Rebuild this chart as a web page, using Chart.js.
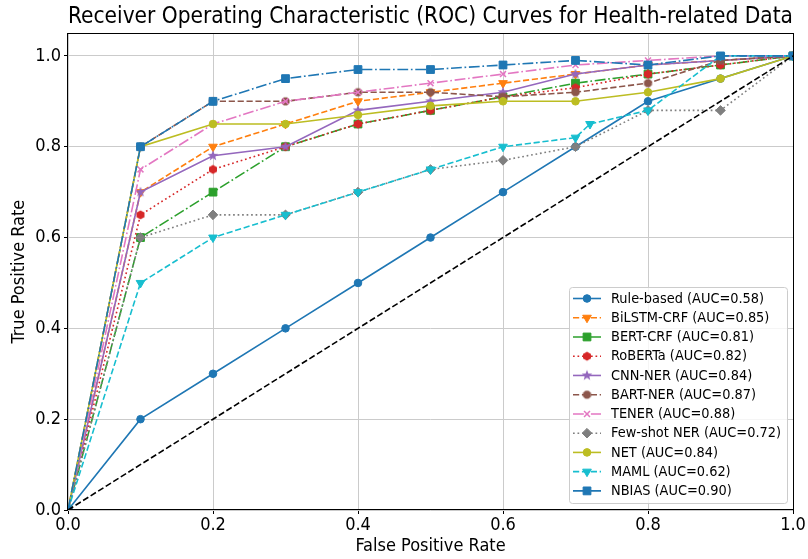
<!DOCTYPE html>
<html>
<head>
<meta charset="utf-8">
<script src="https://cdn.jsdelivr.net/npm/chart.js@4.4.1/dist/chart.umd.min.js"></script>
<style>
  html, body { margin: 0; padding: 0; background: #fff; }
  canvas { display: block; }
</style>
</head>
<body>
<canvas id="roc" width="808" height="559"></canvas>
<script>
// false positive rate grid shared by most models
const FPR = [0, 0.1, 0.2, 0.3, 0.4, 0.5, 0.6, 0.7, 0.8, 0.9, 1.0];
// MAML has one extra point around 0.72
const FPR_MAML = [0, 0.1, 0.2, 0.3, 0.4, 0.5, 0.6, 0.7, 0.72, 0.8, 0.9, 1.0];

const MODEL_NAMES = ["Rule-based", "BiLSTM-CRF", "BERT-CRF", "RoBERTa", "CNN-NER", "BART-NER",
  "TENER", "Few-shot NER", "NET", "MAML", "NBIAS"];
const AUC_VALUES = [0.58, 0.85, 0.81, 0.82, 0.84, 0.87, 0.88, 0.72, 0.84, 0.62, 0.90];

const TPR_RULE = [0, 0.2, 0.3, 0.4, 0.5, 0.6, 0.7, 0.8, 0.9, 0.95, 1.0];
const TPR_BILSTM = [0, 0.7, 0.8, 0.85, 0.9, 0.92, 0.94, 0.96, 0.98, 0.99, 1.0];
const TPR_BERT = [0, 0.6, 0.7, 0.8, 0.85, 0.88, 0.91, 0.94, 0.96, 0.98, 1.0];
const TPR_ROBERTA = [0, 0.65, 0.75, 0.8, 0.85, 0.88, 0.91, 0.93, 0.96, 0.98, 1.0];
const TPR_CNN = [0, 0.7, 0.78, 0.8, 0.88, 0.9, 0.92, 0.96, 0.98, 0.99, 1.0];
const TPR_BART = [0, 0.8, 0.9, 0.9, 0.92, 0.92, 0.91, 0.92, 0.94, 0.99, 1.0];
const TPR_TENER = [0, 0.75, 0.85, 0.9, 0.92, 0.94, 0.96, 0.98, 0.99, 1.0, 1.0];
const TPR_FEWSHOT = [0, 0.6, 0.65, 0.65, 0.7, 0.75, 0.77, 0.8, 0.88, 0.88, 1.0];
const TPR_NET = [0, 0.8, 0.85, 0.85, 0.87, 0.89, 0.9, 0.9, 0.92, 0.95, 1.0];
const TPR_MAML = [0, 0.5, 0.6, 0.65, 0.7, 0.75, 0.8, 0.82, 0.85, 0.88, 1.0, 1.0];
const TPR_NBIAS = [0, 0.8, 0.9, 0.95, 0.97, 0.97, 0.98, 0.99, 0.98, 1.0, 1.0];

const MODEL_FPR = [FPR, FPR, FPR, FPR, FPR, FPR, FPR, FPR, FPR, FPR_MAML, FPR];
const MODEL_TPR = [TPR_RULE, TPR_BILSTM, TPR_BERT, TPR_ROBERTA, TPR_CNN, TPR_BART,
  TPR_TENER, TPR_FEWSHOT, TPR_NET, TPR_MAML, TPR_NBIAS];

const CHANCE_FPR = [0, 1];
const CHANCE_TPR = [0, 1];

const FONT = '"DejaVu Sans Condensed", "DejaVu Sans"';
const GRID = "#cbcbcb";
const DASHED = [6.2, 2.7];
const DASHDOT = [10.8, 2.7, 1.7, 2.7];
const DOTTED = [1.7, 2.8];

// filled polygon / star markers that Chart.js does not ship
function shapeMarker(points, radius, color, startAngle, innerRatio) {
  const size = Math.ceil(radius * 2 + 2);
  const c = document.createElement("canvas");
  c.width = size;
  c.height = size;
  const ctx = c.getContext("2d");
  const n = innerRatio ? points * 2 : points;
  ctx.beginPath();
  for (let i = 0; i < n; i++) {
    const r = innerRatio && i % 2 ? radius * innerRatio : radius;
    const a = startAngle + (i * 2 * Math.PI) / n;
    const px = size / 2 + r * Math.sin(a);
    const py = size / 2 - r * Math.cos(a);
    if (i) ctx.lineTo(px, py); else ctx.moveTo(px, py);
  }
  ctx.closePath();
  ctx.fillStyle = color;
  ctx.fill();
  return c;
}

const SERIES_STYLE = [
  { color: "#1f77b4", marker: "circle", radius: 3.8, dash: [] },
  { color: "#ff7f0e", marker: "triangle", rotation: 180, radius: 5, dash: DASHED },
  { color: "#2ca02c", marker: "rect", radius: 5.5, dash: DASHDOT },
  { color: "#d62728", marker: shapeMarker(6, 4.6, "#d62728", 0), radius: 4.5, dash: DOTTED },
  { color: "#9467bd", marker: shapeMarker(5, 5.6, "#9467bd", 0, 0.42), radius: 5, dash: [] },
  { color: "#8c564b", marker: shapeMarker(8, 4.4, "#8c564b", Math.PI / 8), radius: 4.4, dash: DASHED },
  { color: "#e377c2", marker: "crossRot", radius: 4.2, dash: DASHDOT, pointBorder: 1.5 },
  { color: "#7f7f7f", marker: "rectRot", radius: 4.8, dash: DOTTED },
  { color: "#bcbd22", marker: "circle", radius: 3.8, dash: [] },
  { color: "#17becf", marker: "triangle", rotation: 180, radius: 5, dash: DASHED },
  { color: "#1f77b4", marker: "rect", radius: 5.5, dash: DASHDOT },
];

function toPoints(xs, ys) {
  return xs.map((x, i) => ({ x, y: ys[i] }));
}

const datasets = MODEL_NAMES.map((name, i) => {
  const s = SERIES_STYLE[i];
  return {
    label: `${name} (AUC=${AUC_VALUES[i].toFixed(2)})`,
    data: toPoints(MODEL_FPR[i], MODEL_TPR[i]),
    borderColor: s.color,
    backgroundColor: s.color,
    borderWidth: 1.6,
    borderDash: s.dash,
    pointStyle: s.marker,
    pointRadius: s.radius,
    pointRotation: s.rotation || 0,
    pointBorderWidth: s.pointBorder || 1,
    pointBackgroundColor: s.color,
    pointBorderColor: s.color,
    tension: 0,
    order: 30 - i,
  };
});

datasets.push({
  label: "chance",
  data: toPoints(CHANCE_FPR, CHANCE_TPR),
  borderColor: "#000",
  borderWidth: 1.6,
  borderDash: DASHED,
  pointRadius: 0,
  order: 0,
});

const frameAndLegend = {
  id: "frameAndLegend",
  afterDraw(chart) {
    const { ctx, chartArea: a } = chart;
    ctx.save();
    ctx.strokeStyle = "#000";
    ctx.lineWidth = 1;
    ctx.strokeRect(Math.round(a.left) - 0.5, Math.round(a.top) + 0.5,
      Math.round(a.right - a.left) + 1, Math.round(a.bottom - a.top) - 1);

    // legend box, lower right
    const bx = 569.5, by = 287.5, bw = 218, bh = 216;
    ctx.beginPath();
    ctx.roundRect(bx, by, bw, bh, 3);
    ctx.fillStyle = "rgba(255,255,255,0.8)";
    ctx.fill();
    ctx.strokeStyle = "#cccccc";
    ctx.stroke();

    ctx.font = `14.4px ${FONT}`;
    ctx.textBaseline = "middle";
    MODEL_NAMES.forEach((name, i) => {
      const s = SERIES_STYLE[i];
      const y = 298.5 + i * 19.24;
      ctx.save();
      ctx.strokeStyle = s.color;
      ctx.lineWidth = 1.6;
      ctx.setLineDash(s.dash);
      ctx.beginPath();
      ctx.moveTo(573, y);
      ctx.lineTo(601, y);
      ctx.stroke();
      ctx.setLineDash([]);
      ctx.fillStyle = s.color;
      ctx.lineWidth = s.pointBorder || 1;
      Chart.helpers.drawPoint(ctx, {
        pointStyle: s.marker,
        rotation: s.rotation || 0,
        radius: s.radius,
        borderWidth: s.pointBorder || 1,
      }, 587, y);
      ctx.restore();
      ctx.fillStyle = "#000";
      ctx.fillText(`${name} (AUC=${AUC_VALUES[i].toFixed(2)})`, 611, y + 0.5);
    });
    ctx.restore();
  },
};

const tickFont = { family: FONT, size: 18 };

new Chart(document.getElementById("roc"), {
  type: "line",
  data: { datasets },
  options: {
    responsive: false,
    animation: false,
    events: [],
    layout: { padding: { left: 0, right: 15, top: 0, bottom: 0 } },
    plugins: {
      legend: { display: false },
      tooltip: { enabled: false },
      title: {
        display: true,
        fullSize: false,
        text: "Receiver Operating Characteristic (ROC) Curves for Health-related Data",
        color: "#000",
        font: { family: FONT, size: 23.5, weight: "normal" },
        padding: { top: 3, bottom: 2 },
      },
    },
    scales: {
      x: {
        type: "linear",
        min: 0,
        max: 1,
        border: { display: false },
        grid: { color: GRID, lineWidth: 1, tickLength: 4, tickColor: "#000" },
        ticks: { stepSize: 0.2, color: "#000", font: tickFont, padding: 1, maxRotation: 0,
          callback: (v) => v.toFixed(1) },
        title: { display: true, text: "False Positive Rate", color: "#000", font: tickFont,
          padding: { top: 0, bottom: 2 } },
        afterFit(scale) { scale.height = 49; },
      },
      y: {
        type: "linear",
        min: 0,
        max: 1.05,
        border: { display: false },
        grid: { color: GRID, lineWidth: 1, tickLength: 4, tickColor: "#000" },
        ticks: { stepSize: 0.2, color: "#000", font: tickFont, padding: 3,
          callback: (v) => v.toFixed(1) },
        afterBuildTicks(scale) { scale.ticks = scale.ticks.filter((t) => t.value <= 1.0001); },
        title: { display: true, text: "True Positive Rate", color: "#000", font: tickFont,
          padding: { top: 9, bottom: 0 } },
        afterFit(scale) { scale.width = 68; },
      },
    },
  },
  plugins: [frameAndLegend],
});
</script>
</body>
</html>
